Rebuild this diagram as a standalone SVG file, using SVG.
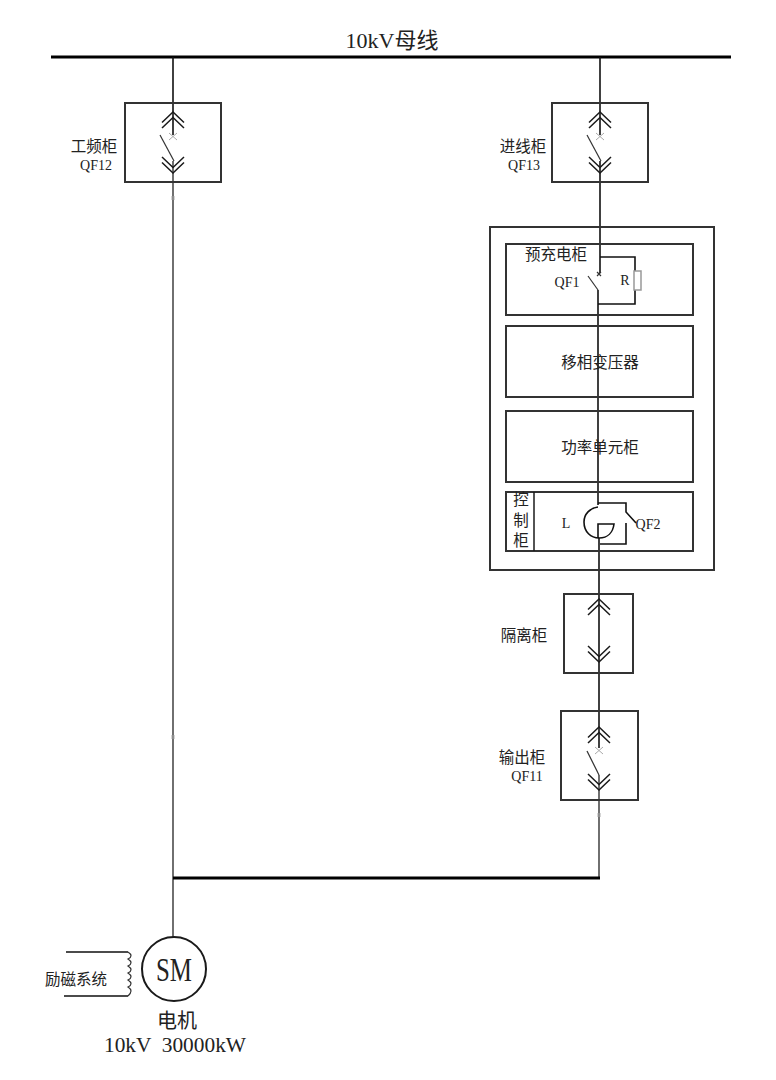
<svg xmlns="http://www.w3.org/2000/svg" width="776" height="1080" viewBox="0 0 776 1080">
<defs>
<g id="chev-up"><path d="M-11 9.500L0 -1L11 9.500M-11 15L0 4.500L11 15"/></g>
<g id="chev-down"><path d="M-11 -9.500L0 1L11 -9.500M-11 -15L0 -4.500L11 -15"/></g>
</defs>
<style>
text{font-family:"Liberation Serif","Noto Sans CJK SC",serif;fill:#222;text-anchor:middle}
.l{font-size:15.500px}
.q{font-size:14px}
.b{font-size:22px}
rect,path,circle,line{fill:none;stroke:#1a1a1a;stroke-width:1.500}
.box{stroke:#333;stroke-width:2}
.bus{stroke:#000;stroke-width:3}
.wire{stroke:#111;stroke-width:1.600}
.long{stroke:#333;stroke-width:1.400}
.thin{stroke:#333;stroke-width:1.200}
.x{stroke:#aaa;stroke-width:1}
use{fill:none;stroke:#1a1a1a;stroke-width:1.700}
</style>
<g id="connectors">
<line class="bus" x1="51" y1="57" x2="731" y2="57"/>
<line class="wire" x1="173" y1="57" x2="173" y2="135"/>
<line class="long" x1="173" y1="161" x2="173" y2="937"/>
<line class="wire" x1="600" y1="57" x2="600" y2="135"/>
<line class="wire" x1="600" y1="161" x2="600" y2="273"/>
<path class="wire" d="M600 257H635V271M635 290V304H598M598 290V482"/>
<path class="wire" d="M598 482V505"/>
<line class="wire" x1="599" y1="538" x2="599" y2="748"/>
<line class="long" x1="599" y1="775" x2="599" y2="878"/>
<line class="bus" x1="173" y1="878" x2="600" y2="878"/>
<path class="wire" d="M66 952H128M64 996H128"/>
<path class="x" d="M171 197H175M171 199H175M171 736H175M171 738H175M597 814H601M597 816H601"/>
</g>
<g id="bus-label"><text class="b" x="392" y="48">10kV母线</text></g>
<g id="qf12">
<rect class="box" x="125" y="103" width="96" height="79"/>
<use href="#chev-up" x="173" y="113"/>
<use href="#chev-down" x="173" y="172"/>
<path class="thin" d="M160 135L174 161"/>
<path class="x" d="M169 133L177 140M177 133L169 140"/>
<text class="l" x="94" y="152">工频柜</text><text class="q" x="96" y="170">QF12</text>
</g>
<g id="qf13">
<rect class="box" x="552" y="103" width="96" height="79"/>
<use href="#chev-up" x="600" y="113"/>
<use href="#chev-down" x="600" y="172"/>
<path class="thin" d="M587 135L601 161"/>
<path class="x" d="M596 133L604 140M604 133L596 140"/>
<text class="l" x="523" y="152">进线柜</text><text class="q" x="524" y="170">QF13</text>
</g>
<g id="converter"><rect class="box" x="490" y="227" width="224" height="343"/></g>
<g id="precharge">
<rect class="box" x="506" y="244" width="187" height="71"/>
<rect x="634" y="271" width="7" height="19" style="stroke:#999"/>
<path class="thin" d="M588 276L598 290"/>
<path class="thin" d="M597 272L601 276M601 272L597 276"/>
<text class="l" x="556" y="260">预充电柜</text>
<text class="q" x="567" y="287">QF1</text>
<text class="q" x="625" y="285">R</text>
</g>
<g id="transformer"><rect class="box" x="506" y="326" width="187" height="71"/><text class="l" x="600" y="368">移相变压器</text></g>
<g id="power"><rect class="box" x="506" y="411" width="187" height="71"/><text class="l" x="600" y="453">功率单元柜</text></g>
<g id="control">
<rect class="box" x="506" y="492" width="187" height="59"/>
<line x1="534" y1="492" x2="534" y2="551"/>
<text class="l" x="521" y="505">控</text><text class="l" x="521" y="526">制</text><text class="l" x="521" y="546">柜</text>
<text class="q" x="566" y="528">L</text>
<path class="wire" d="M598 503H626V512L636 523"/>
<path class="wire" d="M626 523V544H600"/>
<path class="wire" d="M598 507C590 508 584 514 584 522C584 532 591 538 599 538C608 538 613 532 614 524H598V538"/>
<text class="q" x="648" y="529">QF2</text>
</g>
<g id="isolation">
<rect class="box" x="564" y="594" width="69" height="79"/>
<use href="#chev-up" x="599" y="600"/>
<use href="#chev-down" x="599" y="661"/>
<text class="l" x="524" y="641">隔离柜</text>
</g>
<g id="qf11">
<rect class="box" x="561" y="711" width="77" height="89"/>
<use href="#chev-up" x="599" y="728"/>
<use href="#chev-down" x="599" y="789"/>
<path class="thin" d="M587 751L599 775"/>
<path class="x" d="M595 747L603 754M603 747L595 754"/>
<text class="l" x="522" y="763">输出柜</text><text class="q" x="527" y="781">QF11</text>
</g>
<g id="motor">
<circle cx="174" cy="969" r="32" style="stroke-width:2"/>
<text x="174" y="981" font-size="34" textLength="36" lengthAdjust="spacingAndGlyphs">SM</text>
<text x="177" y="1028" font-size="20">电机</text>
<text x="175" y="1052" font-size="20" xml:space="preserve" textLength="142" lengthAdjust="spacingAndGlyphs">10kV  30000kW</text>
</g>
<g id="excitation">
<path class="thin" d="M128 952c4 2.500 4 5 0 7c4 2.500 4 5 0 7c4 2.500 4 5 0 7c4 2.500 4 5 0 7c4 2.500 4 5 0 7c4 2.500 4 5 0 9"/>
<text class="l" x="76" y="985">励磁系统</text>
</g>
</svg>
